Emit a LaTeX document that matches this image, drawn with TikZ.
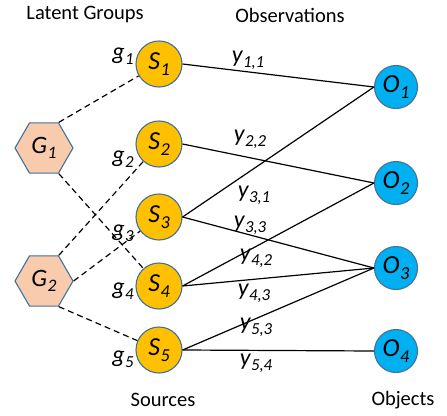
\documentclass[tikz,border=0pt]{standalone}
\usepackage{fontspec}
\usepackage{graphicx}
\setmainfont{Carlito}
\usetikzlibrary{shapes.geometric}
\definecolor{srcc}{HTML}{FFC000}
\definecolor{objc}{HTML}{00B0F0}
\definecolor{grpc}{HTML}{F8CBAD}
\definecolor{bordc}{HTML}{41719C}
\newcommand{\subs}[2]{\textit{#1\kern0.5pt\raisebox{-0.45ex}{\scalebox{0.7}{#2}}}}
\tikzset{
  src/.style={circle, draw=bordc, fill=srcc, minimum size=46pt, inner sep=0pt, line width=1.1pt, font=\fontsize{26}{26}\selectfont},
  obj/.style={circle, draw=bordc, fill=objc, minimum size=43pt, inner sep=0pt, line width=1.1pt, font=\fontsize{26}{26}\selectfont},
  grp/.style={regular polygon, regular polygon sides=6, minimum size=58pt, inner sep=0pt, draw=bordc, fill=grpc, line width=1.1pt, font=\fontsize{25}{25}\selectfont},
  glink/.style={dashed, dash pattern=on 6pt off 4pt, line width=1.2pt},
  olink/.style={line width=1.2pt},
  lbl/.style={font=\fontsize{24}{24}\selectfont, inner sep=0pt},
  hdr/.style={font=\fontsize{20.5}{20.5}\selectfont, inner sep=0pt}
}
\begin{document}
\begin{tikzpicture}[x=1pt,y=-1pt]
\useasboundingbox (0,0) rectangle (447,415);
% headers
\node[hdr] (hlg) at (85,15) {Latent Groups};
\node[hdr] (hobs) at (290,15) {Observations};
\node[hdr] (hsrc) at (163,400) {Sources};
\node[hdr] (hobj) at (403,400) {Objects};
% nodes
\node[src] (S1) at (159,64) {\subs{S}{1}};
\node[src] (S2) at (159,144) {\subs{S}{2}};
\node[src] (S3) at (159,217) {\subs{S}{3}};
\node[src] (S4) at (159,286) {\subs{S}{4}};
\node[src] (S5) at (159,350) {\subs{S}{5}};
\node[obj] (O1) at (396,87) {\subs{O}{1}};
\node[obj] (O2) at (396,183) {\subs{O}{2}};
\node[obj] (O3) at (396,268) {\subs{O}{3}};
\node[obj] (O4) at (396,351) {\subs{O}{4}};
\node[grp] (G1) at (44,148) {\subs{G}{1}};
\node[grp] (G2) at (44,281) {\subs{G}{2}};
% dashed group links
\draw[glink] (G1.60) -- (S1);
\draw[glink] (G1.-60) -- (S4);
\draw[glink] (G2.60) -- (S2);
\draw[glink] (G2.0) -- (S3);
\draw[glink] (G2.-60) -- (S5);
% observation links
\draw[olink] (S1.east) -- (O1.west);
\draw[olink] (S2.east) -- (O2.west);
\draw[olink] (S3.east) -- (O1.west);
\draw[olink] (S3.east) -- (O3.west);
\draw[olink] (S4.east) -- (O2.west);
\draw[olink] (S4.east) -- (O3.west);
\draw[olink] (S5.east) -- (O3.west);
\draw[olink] (S5.east) -- (O4.west);
% g labels
\node[lbl] (g1) at (123,56) {\subs{g}{1}};
\node[lbl] (g2) at (123,159) {\subs{g}{2}};
\node[lbl] (g3) at (123,233) {\subs{g}{3}};
\node[lbl] (g4) at (123,291) {\subs{g}{4}};
\node[lbl] (g5) at (123,359) {\subs{g}{5}};
% y labels
\node[lbl] (y11) at (248,60) {\subs{y}{1,1}};
\node[lbl] (y22) at (250,139) {\subs{y}{2,2}};
\node[lbl] (y31) at (254,195) {\subs{y}{3,1}};
\node[lbl] (y33) at (250,225) {\subs{y}{3,3}};
\node[lbl] (y42) at (256,258) {\subs{y}{4,2}};
\node[lbl] (y43) at (254,293) {\subs{y}{4,3}};
\node[lbl] (y53) at (256,327) {\subs{y}{5,3}};
\node[lbl] (y54) at (256,363) {\subs{y}{5,4}};
\end{tikzpicture}
\end{document}
